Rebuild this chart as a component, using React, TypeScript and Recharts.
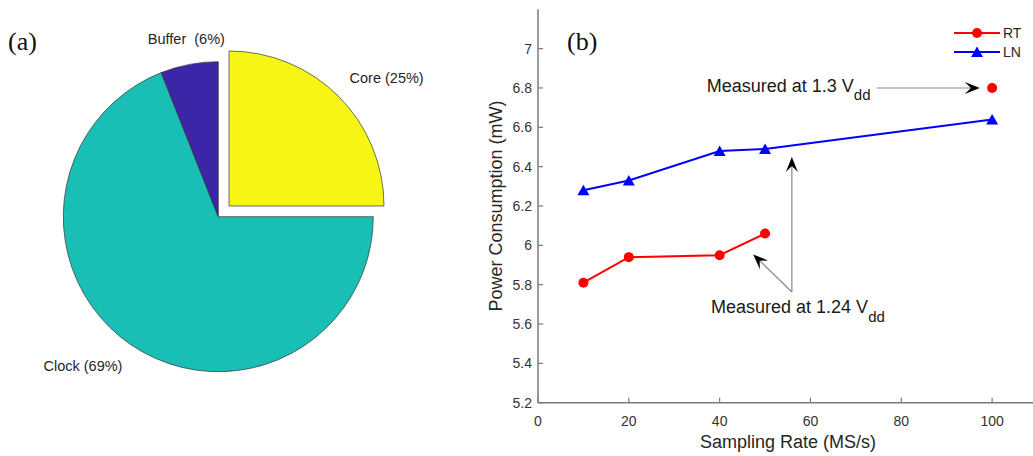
import React from "react";
import {
  PieChart,
  Pie,
  Cell,
  LineChart,
  Line,
  XAxis,
  YAxis,
  Legend,
  ReferenceLine,
  ReferenceDot,
} from "recharts";

// (a) power breakdown
const sliceNames = ["Core", "Clock", "Buffer "];
const sliceShares = [25, 69, 6];
const sliceColors = ["#F6F514", "#19BEB4", "#3D25A7"];

// (b) power vs sampling rate
const sampleRates = [10, 20, 40, 50, 100];
const rtPower = [5.81, 5.94, 5.95, 6.06, null];
const rtPowerHighVdd = [null, null, null, null, 6.8];
const lnPower = [6.28, 6.33, 6.48, 6.49, 6.64];
const seriesNames = ["RT", "LN"];
const seriesColors = ["#ff0000", "#0000ff"];
const xTicks = [0, 20, 40, 60, 80, 100];
const yTicks = [5.2, 5.4, 5.6, 5.8, 6, 6.2, 6.4, 6.6, 6.8, 7];

const pieData = sliceNames.map((name, i) => ({ name, value: sliceShares[i] }));
const rows = sampleRates.map((rate, i) => ({
  rate,
  rt: rtPower[i],
  rtHigh: rtPowerHighVdd[i],
  ln: lnPower[i],
}));

// annotation arrows, in data units: [from, to]
const arrows = [
  [{ x: 74.6, y: 6.8 }, { x: 97.3, y: 6.8 }],
  [{ x: 55.9, y: 5.763 }, { x: 55.9, y: 6.449 }],
  [{ x: 55.9, y: 5.763 }, { x: 47.4, y: 5.954 }],
];

const SANS = "'Liberation Sans', Arial, sans-serif";
const SERIF = "'Liberation Serif', 'Times New Roman', serif";
const INK = "#262626";
const AXIS = "#7a7a7a";
const RAD = Math.PI / 180;

const sliceLabel = (show: (name: string) => boolean) => (p: any) => {
  const name = p.payload?.name ?? p.name;
  if (!show(name)) return null;
  const c = Math.cos(-p.midAngle * RAD);
  const s = Math.sin(-p.midAngle * RAD);
  const r = p.outerRadius * 1.1;
  const x = p.cx + r * c;
  const y = p.cy + r * s + s * 10;
  const anchor = c > 0.3 ? "start" : c < -0.3 ? "end" : "middle";
  return (
    <text
      key={`lbl-${name}`}
      x={x}
      y={y}
      textAnchor={anchor}
      dominantBaseline="central"
      fontFamily={SANS}
      fontSize={14.5}
      fill={INK}
      style={{ whiteSpace: "pre" }}
    >
      {`${name} (${p.value}%)`}
    </text>
  );
};

const Arrow = (p: any) => {
  const { x1, y1, x2, y2 } = p;
  const a = Math.atan2(y2 - y1, x2 - x1);
  const ux = Math.cos(a);
  const uy = Math.sin(a);
  const px = -uy;
  const py = ux;
  const L = 15;
  const W = 6;
  const N = 9;
  const bx = x2 - ux * L;
  const by = y2 - uy * L;
  const nx = x2 - ux * N;
  const ny = y2 - uy * N;
  const d = `M${x2},${y2} L${bx + px * W},${by + py * W} L${nx},${ny} L${bx - px * W},${by - py * W} Z`;
  return (
    <g>
      <line x1={x1} y1={y1} x2={nx} y2={ny} stroke="#8a8a8a" strokeWidth={1.2} />
      <path d={d} fill="#000" />
    </g>
  );
};

const note = (main: string) => (p: any) => (
  <text x={p.cx} y={p.cy} fontFamily={SANS} fontSize={18} fill="#1a1a1a">
    {main}
    <tspan dy={8.5} fontSize={15}>
      dd
    </tspan>
  </text>
);

const Tri = (p: any) => {
  if (p.cx == null || p.cy == null || p.value == null) return <g key={`tri-${p.index}`} />;
  const { cx, cy } = p;
  return (
    <path
      key={`tri-${p.index}`}
      d={`M${cx},${cy - 5.5} L${cx + 6},${cy + 5} L${cx - 6},${cy + 5} Z`}
      fill="#0000ff"
    />
  );
};

const YTitle = ({ viewBox }: any) => {
  const cx = viewBox.x + 36;
  const cy = viewBox.y + viewBox.height / 2;
  return (
    <text
      x={cx}
      y={cy}
      transform={`rotate(-90 ${cx} ${cy})`}
      textAnchor="middle"
      dominantBaseline="central"
      fontFamily={SANS}
      fontSize={18}
      fill={INK}
    >
      Power Consumption (mW)
    </text>
  );
};

const XTitle = ({ viewBox }: any) => (
  <text
    x={viewBox.x + viewBox.width / 2 + 2.5}
    y={viewBox.y + 39.5}
    textAnchor="middle"
    dominantBaseline="central"
    fontFamily={SANS}
    fontSize={18}
    fill={INK}
  >
    Sampling Rate (MS/s)
  </text>
);

const LegendBox = () => (
  <svg width={79} height={40} style={{ display: "block" }}>
    {seriesNames.map((name, i) => {
      const y = 10 + i * 19;
      const color = seriesColors[i];
      return (
        <g key={`leg-${i}`}>
          <line x1={0} x2={46} y1={y} y2={y} stroke={color} strokeWidth={2} />
          {i === 0 ? (
            <circle cx={23} cy={y} r={5} fill={color} />
          ) : (
            <path d={`M23,${y - 5.5} L29,${y + 5} L17,${y + 5} Z`} fill={color} />
          )}
          <text x={49} y={y} dominantBaseline="central" fontFamily={SANS} fontSize={14} fill={INK}>
            {name}
          </text>
        </g>
      );
    })}
  </svg>
);

const tickStyle = { fontSize: 14, fill: "#333", fontFamily: SANS };

export default function App() {
  return (
    <div
      style={{
        position: "absolute",
        left: 0,
        top: 0,
        width: 1033,
        height: 456,
        background: "#fff",
        overflow: "hidden",
      }}
    >
      <div style={{ position: "absolute", left: 0, top: 0 }}>
        <PieChart width={460} height={456} margin={{ top: 0, right: 0, bottom: 0, left: 0 }}>
          <Pie
            data={pieData}
            dataKey="value"
            nameKey="name"
            cx={218.3}
            cy={216.7}
            outerRadius={155}
            startAngle={90}
            endAngle={-270}
            isAnimationActive={false}
            labelLine={false}
            label={sliceLabel((n) => n !== "Core")}
          >
            {pieData.map((d, i) =>
              d.name === "Core" ? (
                <Cell key={d.name} fill="none" stroke="none" />
              ) : (
                <Cell key={d.name} fill={sliceColors[i]} stroke="#333" strokeWidth={0.7} />
              )
            )}
          </Pie>
          <Pie
            data={pieData}
            dataKey="value"
            nameKey="name"
            cx={229}
            cy={206}
            outerRadius={155}
            startAngle={90}
            endAngle={-270}
            isAnimationActive={false}
            labelLine={false}
            label={sliceLabel((n) => n === "Core")}
          >
            {pieData.map((d, i) =>
              d.name === "Core" ? (
                <Cell key={d.name} fill={sliceColors[i]} stroke="#333" strokeWidth={0.7} />
              ) : (
                <Cell key={d.name} fill="none" stroke="none" />
              )
            )}
          </Pie>
        </PieChart>
      </div>

      <div style={{ position: "absolute", left: 460, top: 0 }}>
        <LineChart
          width={573}
          height={456}
          data={rows}
          margin={{ top: 9.3, right: 0, bottom: 23.3, left: 0 }}
        >
          <XAxis
            xAxisId="top"
            orientation="top"
            type="number"
            dataKey="rate"
            domain={[0, 109]}
            ticks={xTicks}
            tick={false}
            tickSize={-5}
            height={0}
            allowDataOverflow
            axisLine={{ stroke: AXIS, strokeWidth: 1.3 }}
            tickLine={{ stroke: AXIS, strokeWidth: 1.2 }}
          />
          <XAxis
            type="number"
            dataKey="rate"
            domain={[0, 109]}
            ticks={xTicks}
            tickSize={-5}
            tickMargin={18}
            height={30}
            allowDataOverflow
            axisLine={{ stroke: AXIS, strokeWidth: 1.5 }}
            tickLine={{ stroke: AXIS, strokeWidth: 1.2 }}
            tick={tickStyle}
            label={<XTitle />}
          />
          <YAxis
            type="number"
            domain={[5.2, 7.2]}
            ticks={yTicks}
            width={78}
            tickSize={-5}
            tickMargin={11}
            allowDataOverflow
            axisLine={{ stroke: AXIS, strokeWidth: 1.5 }}
            tickLine={{ stroke: AXIS, strokeWidth: 1.2 }}
            tick={tickStyle}
            label={<YTitle />}
          />
          <Legend
            layout="vertical"
            align="center"
            verticalAlign="middle"
            wrapperStyle={{ left: 494, top: 22.7, width: 79 }}
            content={<LegendBox />}
          />
          <Line
            dataKey="rt"
            name="RT"
            stroke="#ff0000"
            strokeWidth={2}
            dot={{ r: 5, fill: "#ff0000", stroke: "#ff0000", strokeWidth: 0 }}
            activeDot={false}
            isAnimationActive={false}
          />
          <Line
            dataKey="rtHigh"
            name="RT 1.3V"
            legendType="none"
            stroke="#ff0000"
            strokeWidth={2}
            dot={{ r: 5, fill: "#ff0000", stroke: "#ff0000", strokeWidth: 0 }}
            activeDot={false}
            isAnimationActive={false}
          />
          <Line
            dataKey="ln"
            name="LN"
            stroke="#0000ff"
            strokeWidth={2}
            dot={(p: any) => <Tri {...p} key={`tri-${p.index}`} />}
            activeDot={false}
            isAnimationActive={false}
          />
          {arrows.map((seg, i) => (
            <ReferenceLine key={`arrow-${i}`} segment={seg} ifOverflow="visible" shape={Arrow} />
          ))}
          <ReferenceDot x={37.15} y={6.78} ifOverflow="visible" shape={note("Measured at 1.3 V")} />
          <ReferenceDot x={38.1} y={5.654} ifOverflow="visible" shape={note("Measured at 1.24 V")} />
        </LineChart>
      </div>

      <svg
        width={1033}
        height={456}
        style={{ position: "absolute", left: 0, top: 0, pointerEvents: "none" }}
      >
        <text x={8} y={49.5} fontFamily={SERIF} fontSize={26} fill="#111">
          (a)
        </text>
        <text x={567} y={50} fontFamily={SERIF} fontSize={26} fill="#111">
          (b)
        </text>
      </svg>
    </div>
  );
}
